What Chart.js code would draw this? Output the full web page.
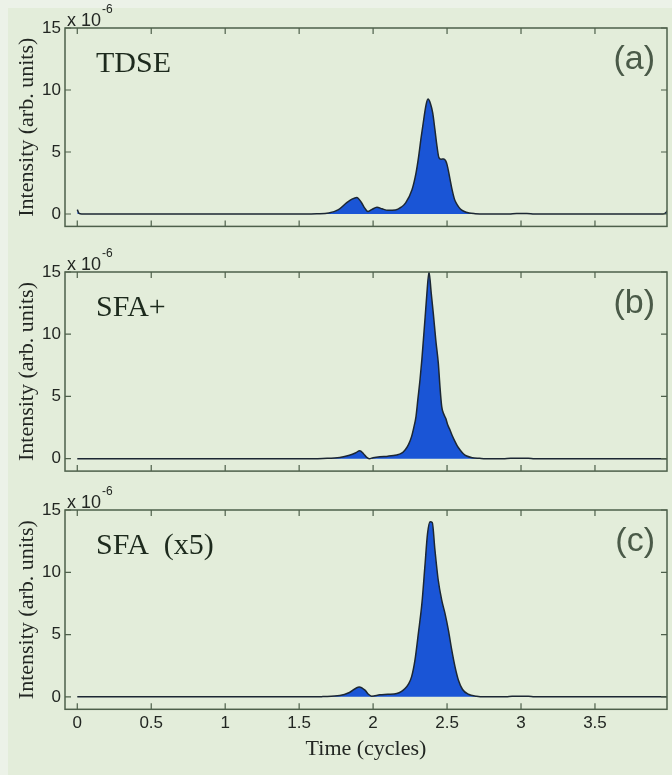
<!DOCTYPE html>
<html>
<head>
<meta charset="utf-8">
<script src="https://cdn.jsdelivr.net/npm/chart.js@4/dist/chart.umd.min.js"></script>
<style>
  html, body { margin: 0; padding: 0; width: 672px; height: 775px; overflow: hidden; background: #ecf2e8; }
  #sheet { position: absolute; left: 8px; top: 8px; width: 664px; height: 767px; background: #e3edda; }
  canvas { position: absolute; left: 0; top: 0; }
</style>
</head>
<body>
<div id="sheet"></div>
<canvas id="panelA" width="672" height="775"></canvas>
<canvas id="panelB" width="672" height="775"></canvas>
<canvas id="panelC" width="672" height="775"></canvas>
<script>
// Axis ticks shared by the three panels (intensity in units of 1e-6)
const xTicks = [0, 0.5, 1, 1.5, 2, 2.5, 3, 3.5];
const xTickLabels = ['0', '0.5', '1', '1.5', '2', '2.5', '3', '3.5'];
const yTicks = [0, 5, 10, 15];
const yTickLabels = ['0', '5', '10', '15'];

// (a) TDSE
const tdseTime = [0, 0.012, 0.03, 1.55, 1.62, 1.70, 1.766, 1.82, 1.857, 1.89, 1.92, 1.945, 1.965, 1.99, 2.026, 2.06, 2.10, 2.15, 2.19, 2.22, 2.263, 2.29, 2.308, 2.325, 2.342, 2.358, 2.371, 2.388, 2.403, 2.418, 2.432, 2.445, 2.46, 2.477, 2.49, 2.5, 2.517, 2.534, 2.55, 2.568, 2.59, 2.613, 2.65, 2.69, 2.75, 2.92, 2.97, 3.04, 3.09, 3.96, 3.98, 4.0];
const tdseIntensity = [0.35, 0.05, 0, 0, 0.02, 0.08, 0.35, 0.89, 1.2, 1.34, 0.95, 0.45, 0.2, 0.35, 0.54, 0.42, 0.3, 0.32, 0.55, 0.9, 1.96, 3.3, 4.65, 6.2, 7.6, 8.8, 9.27, 8.9, 8.15, 6.8, 5.46, 4.55, 4.42, 4.44, 4.3, 3.98, 3.0, 1.96, 1.2, 0.75, 0.4, 0.22, 0.08, 0.03, 0, 0, 0.05, 0.05, 0, 0, 0.12, 0.45];

// (b) SFA+
const sfaPlusTime = [0, 1.6, 1.66, 1.775, 1.84, 1.88, 1.91, 1.935, 1.955, 1.974, 2.0, 2.046, 2.10, 2.16, 2.19, 2.216, 2.24, 2.26, 2.275, 2.29, 2.303, 2.317, 2.33, 2.34, 2.352, 2.362, 2.378, 2.393, 2.407, 2.424, 2.441, 2.452, 2.464, 2.477, 2.491, 2.505, 2.52, 2.537, 2.554, 2.57, 2.588, 2.61, 2.633, 2.67, 2.72, 2.76, 2.88, 2.93, 3.05, 3.09, 4.0];
const sfaPlusIntensity = [0, 0, 0.02, 0.1, 0.27, 0.45, 0.64, 0.4, 0.12, 0, 0.08, 0.16, 0.2, 0.3, 0.42, 0.7, 1.15, 1.77, 2.5, 3.38, 4.8, 6.32, 8.0, 9.54, 11.4, 13.0, 15.0, 13.3, 11.68, 9.5, 7.66, 5.8, 4.18, 3.6, 3.24, 2.7, 2.3, 1.8, 1.37, 1.0, 0.7, 0.4, 0.21, 0.08, 0.03, 0, 0, 0.04, 0.04, 0, 0];

// (c) SFA, scaled by 5
const sfaTime = [0, 1.6, 1.66, 1.775, 1.84, 1.906, 1.945, 1.968, 1.99, 2.046, 2.10, 2.16, 2.19, 2.216, 2.24, 2.26, 2.283, 2.306, 2.33, 2.35, 2.368, 2.385, 2.4, 2.418, 2.44, 2.464, 2.486, 2.509, 2.532, 2.554, 2.577, 2.605, 2.644, 2.7, 2.746, 2.9, 2.94, 3.05, 3.09, 4.0];
const sfaIntensity = [0, 0, 0.02, 0.1, 0.35, 0.8, 0.54, 0.21, 0.05, 0.16, 0.2, 0.27, 0.42, 0.67, 1.05, 1.6, 2.95, 5.1, 7.5, 10.45, 13.1, 14.06, 14.0, 11.8, 9.4, 7.77, 6.7, 5.36, 3.75, 2.41, 1.34, 0.59, 0.21, 0.05, 0, 0, 0.04, 0.04, 0, 0];

const FILL = '#1a55d6';
const EDGE = '#1c2733';
const FRAME = '#4e604b';
const INK = '#222622';

// Box with inward tick marks on all four sides
const framePlugin = {
  id: 'frame',
  afterDatasetsDraw(chart) {
    const { ctx, chartArea: a, scales: { x, y } } = chart;
    ctx.save();
    ctx.strokeStyle = FRAME;
    ctx.lineWidth = 1.5;
    ctx.strokeRect(a.left, a.top, a.right - a.left, a.bottom - a.top);
    ctx.beginPath();
    ctx.lineWidth = 1.2;
    xTicks.forEach(v => {
      const px = x.getPixelForValue(v);
      ctx.moveTo(px, a.bottom); ctx.lineTo(px, a.bottom - 6);
      ctx.moveTo(px, a.top); ctx.lineTo(px, a.top + 6);
    });
    yTicks.forEach(v => {
      const py = y.getPixelForValue(v);
      ctx.moveTo(a.left, py); ctx.lineTo(a.left + 6, py);
      ctx.moveTo(a.right, py); ctx.lineTo(a.right - 6, py);
    });
    ctx.stroke();
    ctx.restore();
  }
};

// Panel name, panel tag and the axis multiplier
const labelPlugin = {
  id: 'panelLabels',
  afterDraw(chart, args, o) {
    const { ctx, chartArea: a } = chart;
    ctx.save();
    ctx.textBaseline = 'alphabetic';
    ctx.fillStyle = '#1d2a1d';
    ctx.font = '30px "Liberation Serif"';
    ctx.textAlign = 'left';
    ctx.fillText(o.name, a.left + 31, a.top + 44);
    ctx.fillStyle = '#4a5a48';
    ctx.font = '34px "Liberation Sans"';
    ctx.textAlign = 'right';
    ctx.fillText(o.tag, a.right - 12, a.top + 41);
    ctx.fillStyle = INK;
    ctx.textAlign = 'left';
    ctx.font = '18px "Liberation Sans"';
    const base = 'x 10';
    ctx.fillText(base, a.left + 2, a.top - 2);
    const w = ctx.measureText(base).width;
    ctx.font = '12px "Liberation Sans"';
    ctx.fillText('-6', a.left + 3 + w, a.top - 15);
    ctx.restore();
  }
};

function makePanel(id, time, values, opts) {
  const points = time.map((t, i) => ({ x: t, y: values[i] }));
  return new Chart(document.getElementById(id), {
    type: 'line',
    data: {
      datasets: [{
        data: points,
        fill: 'origin',
        backgroundColor: FILL,
        borderColor: EDGE,
        borderWidth: 1.5,
        pointRadius: 0,
        cubicInterpolationMode: 'monotone'
      }]
    },
    options: {
      responsive: false,
      animation: false,
      devicePixelRatio: 1,
      layout: { padding: { top: opts.top, bottom: opts.bottom, left: 0, right: 5 } },
      plugins: {
        legend: { display: false },
        tooltip: { enabled: false },
        panelLabels: { name: opts.name, tag: opts.tag }
      },
      scales: {
        x: {
          type: 'linear',
          min: -0.083,
          max: 3.987,
          grid: { display: false, drawTicks: false },
          border: { display: false },
          afterBuildTicks: s => { s.ticks = xTicks.map(v => ({ value: v })); },
          afterFit: s => { s.height = opts.showX ? 55 : 0; },
          ticks: {
            display: opts.showX,
            padding: 4,
            color: INK,
            font: { family: 'Liberation Sans', size: 17 },
            maxRotation: 0,
            autoSkip: false,
            callback: (v, i) => xTickLabels[i]
          },
          title: {
            display: opts.showX,
            text: 'Time (cycles)',
            color: INK,
            font: { family: 'Liberation Serif', size: 22, lineHeight: 1.2 },
            padding: { top: 0, bottom: 2 }
          }
        },
        y: {
          type: 'linear',
          min: -1,
          max: 15,
          grid: { display: false, drawTicks: false },
          border: { display: false },
          afterBuildTicks: s => { s.ticks = yTicks.map(v => ({ value: v })); },
          afterFit: s => { s.width = 65; },
          ticks: {
            padding: 4,
            color: INK,
            font: { family: 'Liberation Sans', size: 17 },
            callback: (v, i) => yTickLabels[i]
          },
          title: {
            display: true,
            text: 'Intensity (arb. units)',
            color: INK,
            font: { family: 'Liberation Serif', size: 22, lineHeight: 1.2 },
            padding: { top: 14, bottom: 0 }
          }
        }
      }
    },
    plugins: [framePlugin, labelPlugin]
  });
}

makePanel('panelA', tdseTime, tdseIntensity, { top: 28, bottom: 548.6, name: 'TDSE', tag: '(a)', showX: false });
makePanel('panelB', sfaPlusTime, sfaPlusIntensity, { top: 272, bottom: 303.9, name: 'SFA+', tag: '(b)', showX: false });
makePanel('panelC', sfaTime, sfaIntensity, { top: 510, bottom: 10.7, name: 'SFA  (x5)', tag: '(c)', showX: true });
</script>
</body>
</html>
